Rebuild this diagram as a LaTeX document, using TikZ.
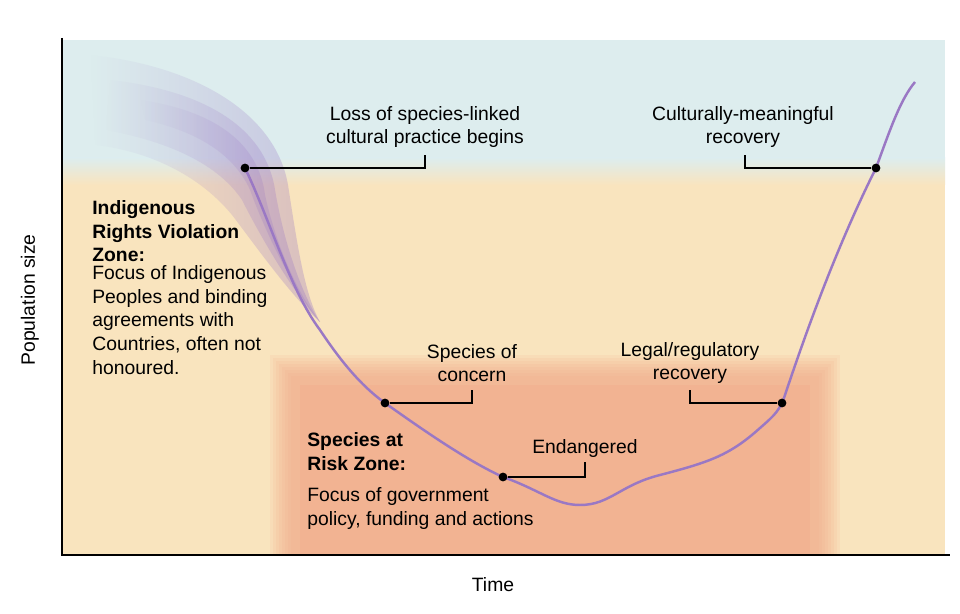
\documentclass[tikz,border=0pt]{standalone}
\usepackage{fontspec}
\setmainfont{Liberation Sans}
\usetikzlibrary{fadings}
\tikzfading[name=fadeleft, left color=transparent!100, right color=transparent!0]
\begin{document}
\begin{tikzpicture}[x=0.02cm,y=-0.02cm,
 dot/.style={circle,fill=black,inner sep=0pt,minimum size=5pt},
 lead/.style={black,line width=0.6pt},
 strand/.style={fill=curvec,opacity=0.35,path fading=fadeleft},
 lab/.style={align=center,font=\fontsize{11}{13.5}\selectfont},
 labl/.style={align=left,font=\fontsize{11}{13.5}\selectfont,anchor=north west,inner sep=0pt}]
\definecolor{bgb}{HTML}{DDEDEE}
\definecolor{bgy}{HTML}{F9E4BE}
\definecolor{bgo}{HTML}{F2A888}
\definecolor{curvec}{HTML}{9A78C4}
\useasboundingbox (0,0) rectangle (960,614);
\fill[white] (0,0) rectangle (960,614);
% backgrounds
\fill[bgy] (62,150) rectangle (945,555);
\fill[bgb] (62,40) rectangle (945,160);
\shade[top color=bgb,bottom color=bgy] (62,158) rectangle (945,185);
\foreach \i in {0,...,7}{
  \fill[bgo,opacity=0.13] (270+3*\i,355+3*\i) rectangle (840-3*\i,555);
}
\fill[bgo,opacity=0.3] (300,385) rectangle (810,555);
% purple ribbon strands
\fill[strand] (90,55) .. controls (190,65) and (275,110) .. (288,185)
  .. controls (298,250) and (305,295) .. (320,322) .. controls (290,295) and (255,245) .. (232,215)
  .. controls (195,170) and (140,150) .. (95,145) -- cycle;
\fill[strand] (110,80) .. controls (200,90) and (265,125) .. (275,190)
  .. controls (285,250) and (305,300) .. (320,322) .. controls (295,295) and (262,240) .. (242,200)
  .. controls (215,160) and (160,140) .. (105,130) -- cycle;
\fill[strand] (140,100) .. controls (210,110) and (258,140) .. (265,195)
  .. controls (278,255) and (305,305) .. (320,322) .. controls (300,300) and (268,240) .. (250,190)
  .. controls (232,150) and (190,130) .. (145,120) -- cycle;
% curve
\draw[curvec,line width=1.4pt] (245,168) .. controls (270,220) and (290,290) .. (320,330)
  .. controls (340,360) and (360,385) .. (385,403)
  .. controls (430,435) and (470,462) .. (503,477)
  .. controls (540,490) and (555,505) .. (580,505)
  .. controls (610,505) and (620,485) .. (660,475)
  .. controls (710,462) and (730,455) .. (760,428)
  .. controls (775,415) and (780,410) .. (785,395)
  .. controls (810,320) and (840,240) .. (876,168)
  .. controls (890,130) and (900,100) .. (915,82);
% axes
\draw[black,line width=0.8pt] (62,38) -- (62,555) -- (950,555);
% dots & leaders
\node[dot] (d1) at (245,168) {};
\node[dot] (d2) at (385,403) {};
\node[dot] (d3) at (503,477) {};
\node[dot] (d4) at (782,403) {};
\node[dot] (d5) at (876,168) {};
\coordinate (c1) at (425,155); \coordinate (c2) at (472,390);
\coordinate (c3) at (585,462); \coordinate (c4) at (690,390); \coordinate (c5) at (745,155);
\draw[lead] (d1) -- (c1|-d1) -- (c1);
\draw[lead] (d2) -- (c2|-d2) -- (c2);
\draw[lead] (d3) -- (c3|-d3) -- (c3);
\draw[lead] (d4) -- (c4|-d4) -- (c4);
\draw[lead] (d5) -- (c5|-d5) -- (c5);
\node[lab] (t1) at (425,127) {Loss of species-linked\\cultural practice begins};
\node[lab] (t2) at (472,363) {Species of\\concern};
\node[lab] (t3) at (585,449) {Endangered};
\node[lab] (t4) at (690,363) {Legal/regulatory\\recovery};
\node[lab] (t5) at (743,127) {Culturally-meaningful\\recovery};
\node[labl] (z1) at (92,200) {\textbf{Indigenous}\\\textbf{Rights Violation}\\\textbf{Zone:}};
\node[labl] (z1b) at (92,265) {Focus of Indigenous\\Peoples and binding\\agreements with\\Countries, often not\\honoured.};
\node[labl] (z2) at (307,432) {\textbf{Species at}\\\textbf{Risk Zone:}};
\node[labl] (z2b) at (307,487) {Focus of government\\policy, funding and actions};
\node[lab,rotate=90] (ya) at (30,300) {Population size};
\node[lab] (xa) at (493,585) {Time};
\end{tikzpicture}
\end{document}
